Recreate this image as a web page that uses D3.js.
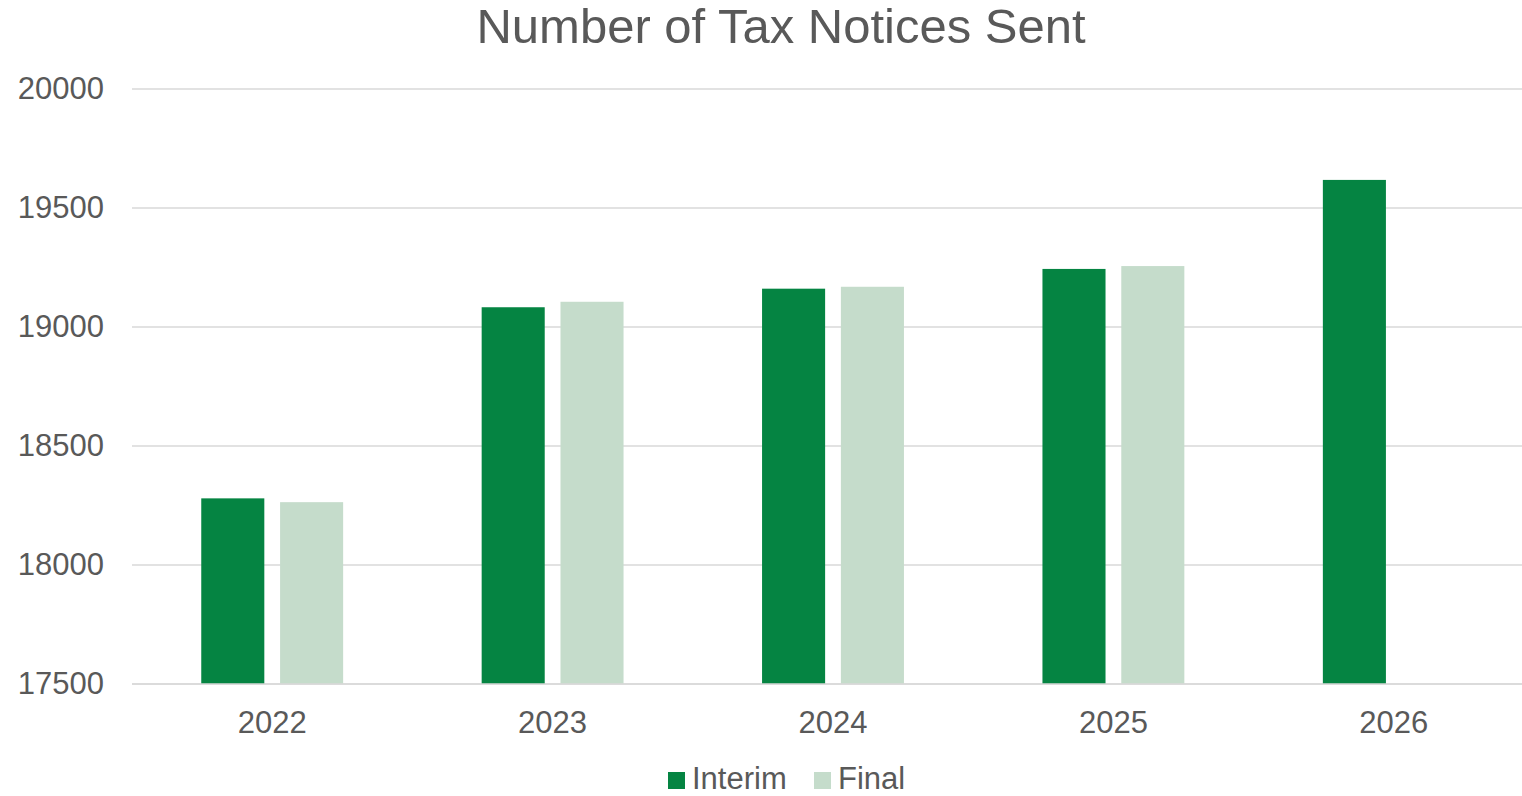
<!DOCTYPE html>
<html>
<head>
<meta charset="utf-8">
<script src="https://cdn.jsdelivr.net/npm/d3@7"></script>
<style>
  html, body { margin: 0; padding: 0; background: #fff; overflow: hidden; }
  svg { display: block; font-family: "Liberation Sans", Arial, sans-serif; }
</style>
</head>
<body>
<svg id="chart" width="1522" height="796"></svg>
<script>
// Tax notices sent per year, interim and final runs
const years = ["2022", "2023", "2024", "2025", "2026"];
const seriesNames = ["Interim", "Final"];
const interimValues = [18280, 19083, 19161, 19244, 19618];
const finalValues = [18264, 19106, 19169, 19256, null];
const yTicks = [17500, 18000, 18500, 19000, 19500, 20000];

const colors = { Interim: "#058442", Final: "#c5dccb" };

const svg = d3.select("#chart");
const W = 1522, H = 796;
const margin = { top: 89, left: 132, bottom: 112 };
const plotW = 1402;              // category span; gridlines stop at the page edge
const gridW = W - margin.left;
const innerH = H - margin.top - margin.bottom;

const g = svg.append("g").attr("transform", `translate(${margin.left},${margin.top})`);

const x0 = d3.scaleBand().domain(years).range([0, plotW])
  .paddingInner(0.494).paddingOuter(0.247);
const x1 = d3.scaleBand().domain(seriesNames).range([0, x0.bandwidth()])
  .paddingInner(0.2).paddingOuter(0);
const y = d3.scaleLinear().domain([17500, 20000]).range([innerH, 0]);

// horizontal gridlines
g.append("g").selectAll("line").data(yTicks).join("line")
  .attr("x1", 0).attr("x2", gridW)
  .attr("y1", d => y(d)).attr("y2", d => y(d))
  .attr("stroke", "#d9d9d9").attr("stroke-width", 1.5);

// y axis labels
const yAxis = d3.axisLeft(y).tickValues(yTicks).tickSize(0).tickPadding(28)
  .tickFormat(d3.format("d"));
g.append("g").call(yAxis)
  .call(s => s.select(".domain").remove())
  .selectAll("text")
  .attr("font-size", 31).attr("fill", "#595959")
  .attr("font-family", "Liberation Sans, Arial, sans-serif");

// bars
const rows = years.map((yr, i) => ({ year: yr, Interim: interimValues[i], Final: finalValues[i] }));
const groups = g.append("g").selectAll("g").data(rows).join("g")
  .attr("transform", d => `translate(${x0(d.year)},0)`);
groups.selectAll("rect")
  .data(d => seriesNames.filter(k => d[k] != null).map(k => ({ key: k, value: d[k] })))
  .join("rect")
  .attr("x", d => x1(d.key))
  .attr("width", x1.bandwidth())
  .attr("y", d => y(d.value))
  .attr("height", d => innerH - y(d.value))
  .attr("fill", d => colors[d.key]);

// baseline
g.append("line").attr("x1", 0).attr("x2", gridW)
  .attr("y1", innerH).attr("y2", innerH)
  .attr("stroke", "#d9d9d9").attr("stroke-width", 1.5);

// x axis labels
const xAxis = d3.axisBottom(x0).tickSize(0).tickPadding(27);
g.append("g").attr("transform", `translate(0,${innerH})`).call(xAxis)
  .call(s => s.select(".domain").remove())
  .selectAll("text")
  .attr("font-size", 31).attr("fill", "#595959")
  .attr("font-family", "Liberation Sans, Arial, sans-serif");

// title
svg.append("text")
  .attr("x", 781).attr("y", 43)
  .attr("text-anchor", "middle")
  .attr("font-size", 49).attr("fill", "#595959")
  .text("Number of Tax Notices Sent");

// legend
const legend = svg.append("g").attr("transform", "translate(668,777)");
const items = [
  { key: "Interim", x: 0 },
  { key: "Final", x: 146 }
];
const li = legend.selectAll("g").data(items).join("g")
  .attr("transform", d => `translate(${d.x},0)`);
li.append("rect").attr("x", 0).attr("y", -5).attr("width", 17).attr("height", 17)
  .attr("fill", d => colors[d.key]);
li.append("text").attr("x", 24).attr("y", 12)
  .attr("font-size", 31).attr("fill", "#595959")
  .text(d => d.key);
</script>
</body>
</html>
